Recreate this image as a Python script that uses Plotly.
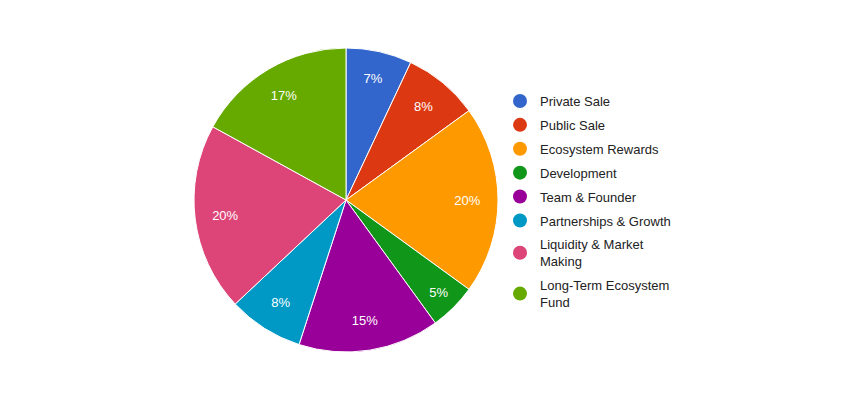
import plotly.graph_objects as go

# Token allocation shares (%)
labels = ["Private Sale", "Public Sale", "Ecosystem Rewards", "Development",
          "Team & Founder", "Partnerships & Growth", "Liquidity & Market Making",
          "Long-Term Ecosystem Fund"]
legend_names = ["Private Sale", "Public Sale", "Ecosystem Rewards", "Development",
                "Team & Founder", "Partnerships & Growth", "Liquidity & Market<br>Making",
                "Long-Term Ecosystem<br>Fund"]
values = [7, 8, 20, 5, 15, 8, 20, 17]
colors = ["#3366cc", "#dc3912", "#ff9900", "#109618",
          "#990099", "#0099c6", "#dd4477", "#66aa00"]

W, H = 866, 412
cx, cy, r = 346, 200, 152
FONT = "Liberation Sans, Arial, sans-serif"
dom = dict(x=[(cx - r) / W, (cx + r) / W], y=[(H - cy - r) / H, (H - cy + r) / H])

fig = go.Figure()

# coloured slices
fig.add_trace(go.Pie(
    labels=labels, values=values,
    sort=False, direction="clockwise", rotation=0,
    marker=dict(colors=colors, line=dict(color="white", width=1)),
    textinfo="none", showlegend=False, domain=dom,
))

# transparent ring on top, only to put the % labels out toward the rim
fig.add_trace(go.Pie(
    labels=labels, values=values,
    sort=False, direction="clockwise", rotation=0, hole=0.6,
    marker=dict(colors=["rgba(0,0,0,0)"] * len(values), line=dict(width=0)),
    texttemplate="%{percent:.0%}", textposition="inside",
    insidetextorientation="horizontal",
    textfont=dict(family=FONT, size=13, color="white"),
    hoverinfo="skip", showlegend=False, domain=dom,
))

# circle legend entries
for i, (name, col) in enumerate(zip(legend_names, colors)):
    fig.add_trace(go.Scatter(
        x=[None], y=[None], mode="markers", name=name,
        marker=dict(symbol="circle", size=14, color=col),
        legendgroup=str(i),
    ))

fig.update_layout(
    width=W, height=H,
    margin=dict(l=0, r=0, t=0, b=0),
    paper_bgcolor="white", plot_bgcolor="white",
    xaxis=dict(visible=False), yaxis=dict(visible=False),
    legend=dict(x=500 / W, y=1 - 86 / H, xanchor="left", yanchor="top",
                font=dict(family=FONT, size=13, color="#222222"),
                tracegroupgap=4, itemwidth=30),
    font=dict(family=FONT),
)

fig.write_html("out.html", config={"displayModeBar": False},
               post_script="document.body.style.margin='0';")
